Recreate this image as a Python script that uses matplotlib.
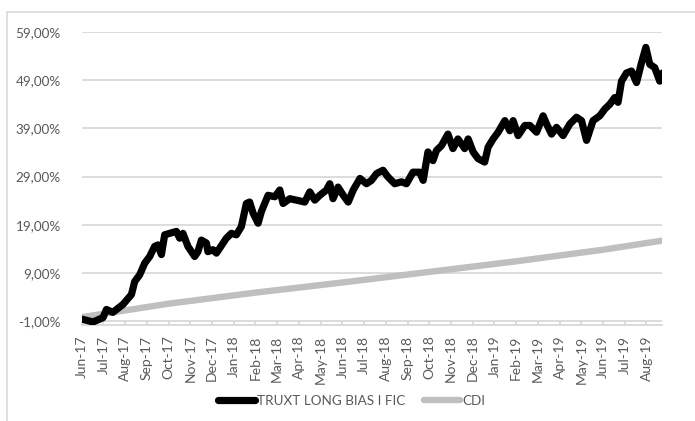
import matplotlib
matplotlib.use("Agg")
import matplotlib.pyplot as plt
from matplotlib.patches import Rectangle

# ---- data (x in months since Jun-17, y in %) ----
month_labels = ["Jun-17", "Jul-17", "Aug-17", "Sep-17", "Oct-17", "Nov-17", "Dec-17",
                "Jan-18", "Feb-18", "Mar-18", "Apr-18", "May-18", "Jun-18", "Jul-18",
                "Aug-18", "Sep-18", "Oct-18", "Nov-18", "Dec-18", "Jan-19", "Feb-19",
                "Mar-19", "Apr-19", "May-19", "Jun-19", "Jul-19", "Aug-19"]

truxt_t = [0.00, 0.52, 0.98, 1.14, 1.43, 1.89, 2.29, 2.44, 2.67, 2.90, 3.13, 3.36, 3.51,
           3.67, 3.82, 4.05, 4.36, 4.51, 4.66, 4.89, 5.20, 5.35, 5.51, 5.74, 5.81, 6.04,
           6.20, 6.35, 6.66, 6.89, 7.12, 7.35, 7.58, 7.73, 7.89, 8.12, 8.27, 8.58, 8.89,
           9.12, 9.27, 9.58, 9.88, 10.27, 10.50, 10.73, 10.96, 11.27, 11.42, 11.57, 11.80,
           12.04, 12.27, 12.50, 12.81, 13.11, 13.34, 13.57, 13.87, 14.10, 14.41, 14.72,
           14.95, 15.25, 15.56, 15.72, 15.94, 16.17, 16.33, 16.56, 16.86, 17.09, 17.32,
           17.63, 17.79, 18.02, 18.25, 18.55, 18.71, 18.94, 19.17, 19.48, 19.71, 19.86,
           20.09, 20.40, 20.63, 20.94, 21.24, 21.40, 21.63, 21.86, 22.16, 22.47, 22.78,
           23.01, 23.24, 23.54, 23.85, 24.08, 24.31, 24.54, 24.69, 24.85, 25.08, 25.31,
           25.54, 25.77, 25.97, 26.15, 26.38, 26.61, 26.74]
truxt_v = [-0.6, -1.2, -0.3, 1.4, 0.8, 2.4, 4.5, 7.2, 8.6, 11.0, 12.4, 14.5, 14.8,
           12.8, 16.9, 17.2, 17.6, 16.2, 17.2, 14.5, 12.4, 13.4, 15.8, 15.2, 13.4, 13.8,
           13.1, 14.1, 16.2, 17.2, 16.9, 18.6, 23.4, 23.7, 21.4, 19.3, 21.7, 25.1, 24.8,
           26.2, 23.4, 24.4, 24.1, 23.7, 25.8, 24.1, 25.1, 26.2, 27.5, 24.4, 26.8,
           25.1, 23.7, 26.2, 28.6, 27.5, 28.2, 29.6, 30.3, 28.9, 27.5, 27.9,
           27.5, 29.9, 29.9, 28.2, 34.1, 32.3, 34.4, 35.4, 37.8, 34.8, 36.8,
           34.8, 36.8, 34.1, 32.7, 32.0, 35.1, 36.8, 38.2, 40.6, 38.5, 40.6,
           37.5, 39.6, 39.6, 38.2, 41.6, 39.9, 37.8, 39.2, 37.5, 39.9, 41.3,
           40.6, 36.5, 40.6, 41.6, 43.0, 44.0, 45.4, 44.4, 48.8, 50.5, 50.9,
           48.5, 52.6, 55.8, 52.3, 51.6, 48.8, 50.5]

cdi_t = [0, 4, 8, 12, 16, 20, 24, 26.74]
cdi_v = [-0.2, 2.6, 4.9, 7.0, 9.2, 11.4, 13.8, 15.7]

y_ticks = [-1, 9, 19, 29, 39, 49, 59]

# ---- figure ----
W, H = 695, 421
fig = plt.figure(figsize=(W / 100, H / 100), dpi=100)
plt.rcParams['font.family'] = ['Lato', 'DejaVu Sans']

# outer chart border
fig.patches.append(Rectangle((7 / W, -0.1), 1.1, 1 - 12 / H + 0.1, transform=fig.transFigure,
                             fill=False, edgecolor='#d9d9d9', linewidth=1.2))

ax = fig.add_axes([81.7 / W, 1 - 324.5 / H, 580 / W, (324.5 - 32) / H])
ax.set_xlim(0, 26.7)
ax.set_ylim(-1.72, 59)

for y in y_ticks:
    ax.axhline(y, color='#d9d9d9', linewidth=1.3, zorder=0)

ax.plot(cdi_t, cdi_v, color='#bfbfbf', linewidth=4.6, solid_capstyle='round',
        label='CDI', zorder=2)
ax.plot(truxt_t, truxt_v, color='black', linewidth=5.2, solid_capstyle='round',
        solid_joinstyle='round', label='TRUXT LONG BIAS I FIC', zorder=3)

for s in ['left', 'right', 'top']:
    ax.spines[s].set_visible(False)
ax.spines['bottom'].set_color('#d9d9d9')
ax.spines['bottom'].set_linewidth(1.3)

ax.set_yticks(y_ticks)
ax.set_yticklabels([f"{v:.2f}%".replace('.', ',') for v in y_ticks])
ax.tick_params(axis='y', length=0, pad=15, labelsize=9.7, labelcolor='#595959')

ax.set_xticks(range(len(month_labels)))
ax.set_xticklabels(month_labels, rotation=90)
ax.tick_params(axis='x', direction='in', length=2.6, width=1.3, color='#d9d9d9',
               labelsize=10, labelcolor='#595959', pad=8)

handles, labels = ax.get_legend_handles_labels()
leg = fig.legend(handles[::-1], labels[::-1], loc='center', bbox_to_anchor=(0.506, 1 - 401 / H),
                 ncol=2, frameon=False, fontsize=9.7, handlelength=2.7, handletextpad=0.15,
                 columnspacing=1.4, labelcolor='#595959')

fig.savefig('out.png', dpi=100)
